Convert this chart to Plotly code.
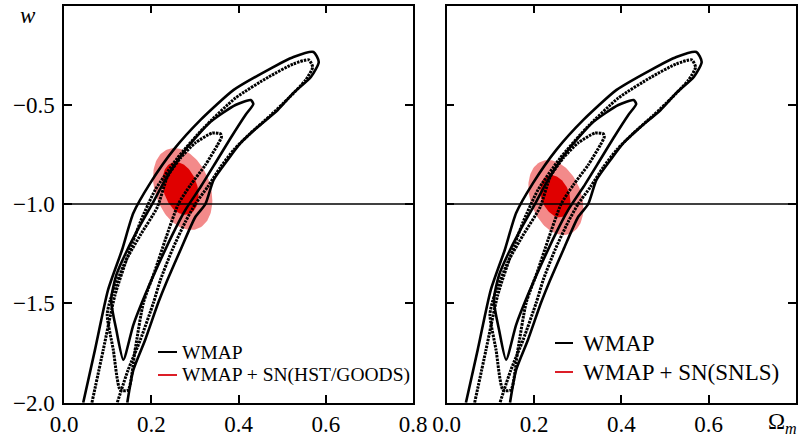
import numpy as np
import plotly.graph_objects as go

# ---------------- data ----------------
# WMAP 95% contour (solid)
outer_solid_x = [0.044, 0.071, 0.101, 0.133, 0.159, 0.198, 0.251, 0.313, 0.389, 0.467, 0.526, 0.572, 0.584,
                 0.566, 0.526, 0.490, 0.444, 0.405, 0.375, 0.343, 0.324, 0.301, 0.267, 0.237, 0.216, 0.186,
                 0.159, 0.145]
outer_solid_w = [-2.0, -1.734, -1.432, -1.231, -1.045, -0.893, -0.727, -0.576, -0.425, -0.325, -0.259, -0.234,
                 -0.284, -0.360, -0.440, -0.526, -0.612, -0.692, -0.778, -0.878, -1.0, -1.065, -1.231, -1.382,
                 -1.497, -1.684, -1.835, -2.0]
# WMAP 95% contour (dotted)
outer_dot_x = [0.064, 0.090, 0.117, 0.147, 0.175, 0.209, 0.260, 0.320, 0.393, 0.469, 0.526, 0.561, 0.570,
               0.554, 0.515, 0.474, 0.428, 0.389, 0.359, 0.329, 0.301, 0.278, 0.248, 0.221, 0.205, 0.175,
               0.147, 0.122]
outer_dot_w = [-2.0, -1.734, -1.457, -1.256, -1.090, -0.929, -0.768, -0.617, -0.466, -0.360, -0.294, -0.274,
               -0.310, -0.375, -0.466, -0.552, -0.642, -0.727, -0.813, -0.914, -1.0, -1.090, -1.231, -1.382,
               -1.497, -1.684, -1.835, -2.0]
# WMAP 68% contour (solid)
inner_solid_x = [0.136, 0.120, 0.108, 0.120, 0.145, 0.175, 0.202, 0.232, 0.278, 0.336, 0.393, 0.428, 0.434,
                 0.416, 0.382, 0.347, 0.313, 0.278, 0.248, 0.216, 0.186, 0.159, 0.136]
inner_solid_w = [-1.784, -1.634, -1.483, -1.357, -1.231, -1.105, -1.0, -0.878, -0.727, -0.586, -0.501, -0.476,
                 -0.496, -0.551, -0.667, -0.793, -0.914, -1.030, -1.156, -1.307, -1.457, -1.608, -1.784]
# WMAP 68% contour (dotted)
inner_dot_x = [0.147, 0.163, 0.182, 0.209, 0.232, 0.262, 0.290, 0.324, 0.352, 0.361, 0.359, 0.340, 0.301,
               0.267, 0.237, 0.214, 0.175, 0.140, 0.106, 0.099, 0.113, 0.129, 0.147]
inner_dot_w = [-1.936, -1.734, -1.497, -1.332, -1.181, -1.0, -0.904, -0.803, -0.702, -0.662, -0.647, -0.642,
               -0.692, -0.768, -0.863, -1.015, -1.156, -1.292, -1.483, -1.558, -1.734, -1.936, -1.936]

# WMAP + SN confidence regions: [centre x, centre w, half-width x, half-height w, tilt]
sn_left_95 = [0.272, -0.924, 0.068, 0.198, -0.85]
sn_left_68 = [0.267, -0.921, 0.0414, 0.128, -0.85]
sn_right_95 = [0.250, -0.967, 0.063, 0.181, -0.85]
sn_right_68 = [0.249, -0.960, 0.0345, 0.102, -0.85]

w_reference = [-1.0, -1.0]
x_span = [0.0, 0.8]

x_ticks_left = [0.0, 0.2, 0.4, 0.6, 0.8]
x_ticks_right = [0.0, 0.2, 0.4, 0.6]
w_ticks = [-2.0, -1.5, -1.0, -0.5]

legend_left = ["WMAP", "WMAP + SN(HST/GOODS)"]
legend_right = ["WMAP", "WMAP + SN(SNLS)"]

# ---------------- figure ----------------
W, H = 799, 437
FONT = "Liberation Serif"
LIGHT = "rgb(243,138,138)"
DARK = "rgb(224,0,0)"


def px_x(p):
    return p / W


def px_y(p):
    return 1 - p / H


def ellipse(par):
    cx, cw, rx, rw, sh = par
    t = np.linspace(0, 2 * np.pi, 120)
    return cx + rx * np.cos(t), cw + rw * np.sin(t) + sh * rx * np.cos(t)


fig = go.Figure()

for xa, ya, e95, e68 in [("x", "y", sn_left_95, sn_left_68), ("x2", "y2", sn_right_95, sn_right_68)]:
    for par, col in [(e95, LIGHT), (e68, DARK)]:
        ex, ew = ellipse(par)
        fig.add_trace(go.Scatter(x=ex, y=ew, mode="lines", fill="toself", fillcolor=col,
                                 line=dict(width=0, color=col), xaxis=xa, yaxis=ya,
                                 showlegend=False, hoverinfo="skip"))
    fig.add_trace(go.Scatter(x=x_span, y=w_reference, mode="lines", line=dict(color="black", width=1.5),
                             xaxis=xa, yaxis=ya, showlegend=False, hoverinfo="skip"))
    for cx_, cw_, dash, wd in [(outer_solid_x, outer_solid_w, "solid", 2.6),
                               (outer_dot_x, outer_dot_w, "2.5px,1px", 3),
                               (inner_solid_x, inner_solid_w, "solid", 2.6),
                               (inner_dot_x, inner_dot_w, "2.5px,1px", 3)]:
        fig.add_trace(go.Scatter(x=cx_, y=cw_, mode="lines",
                                 line=dict(color="black", width=wd, dash=dash, shape="spline", smoothing=0.6),
                                 xaxis=xa, yaxis=ya, showlegend=False, hoverinfo="skip"))

axis_common = dict(showline=True, linecolor="black", linewidth=1.5, mirror="ticks", ticks="inside",
                   ticklen=8, tickwidth=1.5, tickcolor="black", showgrid=False, zeroline=False,
                   tickfont=dict(family=FONT, size=23, color="black"))

x1_dom = [px_x(64), px_x(413)]
x2_dom = [px_x(446.7), px_x(796)]
y_dom = [px_y(402.7), px_y(5.5)]

fig.update_layout(
    width=W, height=H, margin=dict(l=0, r=0, t=0, b=0, autoexpand=False),
    paper_bgcolor="white", plot_bgcolor="white", showlegend=False,
    xaxis=dict(domain=x1_dom, range=[0, 0.8], tickvals=x_ticks_left, tickformat=".1f", anchor="y",
               ticklabelstandoff=0, **axis_common),
    yaxis=dict(domain=y_dom, range=[-2.0, 0.0], tickvals=w_ticks, tickformat=".1f", anchor="x",
               ticklabelstandoff=3, **axis_common),
    xaxis2=dict(domain=x2_dom, range=[0, 0.8], tickvals=x_ticks_right, tickformat=".1f", anchor="y2",
                ticklabelstandoff=0, **axis_common),
    yaxis2=dict(domain=y_dom, range=[-2.0, 0.0], tickvals=w_ticks, showticklabels=False, anchor="x2",
                **axis_common),
)

annotations = [
    dict(text="<i>w</i>", x=px_x(28), y=px_y(16), xanchor="center", yanchor="middle"),
    dict(text="Ω<i><sub>m</sub></i>", x=px_x(766), y=px_y(423), xanchor="left", yanchor="middle"),
]
shapes = []
for labels, lx0, lx1, tx, ys, fs in [(legend_left, 158, 177, 180, (352, 375), 19.5),
                                     (legend_right, 555, 573, 581, (343, 372), 23)]:
    for lab, yy, col in zip(labels, ys, ["black", "rgb(220,30,40)"]):
        shapes.append(dict(type="line", xref="paper", yref="paper", x0=px_x(lx0), x1=px_x(lx1),
                           y0=px_y(yy), y1=px_y(yy), line=dict(color=col, width=2)))
        annotations.append(dict(text=lab, x=px_x(tx), y=px_y(yy), xanchor="left", yanchor="middle",
                                font=dict(size=fs)))

for a in annotations:
    a.setdefault("font", dict(size=23))
    a["font"].update(family=FONT, color="black")
    a.update(xref="paper", yref="paper", showarrow=False)

fig.update_layout(annotations=annotations, shapes=shapes)
fig.write_html("out.html")
